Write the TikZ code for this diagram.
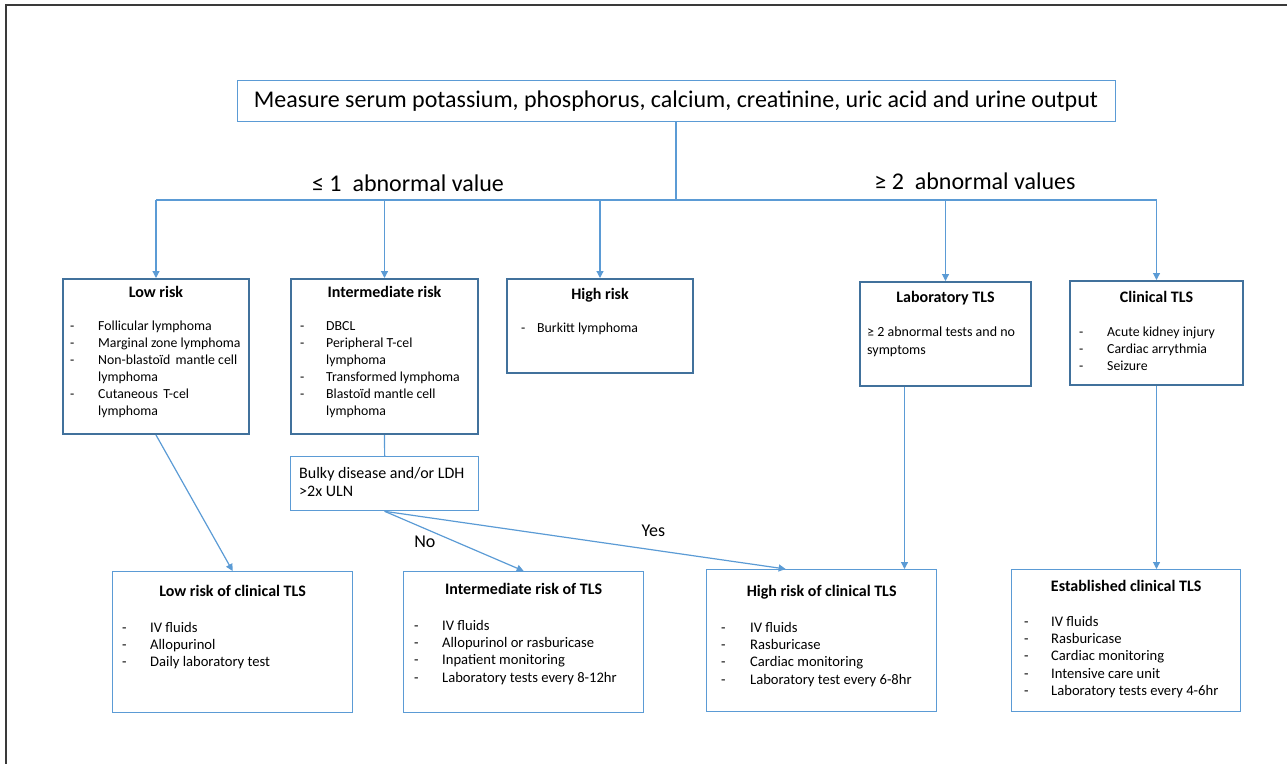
\documentclass[tikz,border=0pt]{standalone}
\usepackage{fontspec}
\setmainfont{Carlito}
\usetikzlibrary{arrows.meta,positioning}
\definecolor{linkblue}{HTML}{5B9BD5}
\definecolor{riskblue}{HTML}{41719C}
\definecolor{framegray}{HTML}{3A3A3A}
\newcommand{\dashitem}[2][28pt]{\makebox[#1][l]{-}#2}
\newcommand{\wrapitem}[2][28pt]{\hspace*{#1}#2}
\begin{document}
\begin{tikzpicture}[x=1pt,y=-1pt,
    flowbox/.style={rectangle,draw=linkblue,line width=1.3,anchor=north west,inner sep=0},
    riskbox/.style={flowbox,draw=riskblue,line width=2},
    boxtitle/.style={font=\fontsize{16}{19}\selectfont\bfseries,inner sep=0,text height=12pt,text depth=4pt},
    itemlist/.style={font=\fontsize{13.8}{17}\selectfont,align=left,anchor=north west,inner sep=0},
    treatlist/.style={itemlist,font=\fontsize{14.6}{17.3}\selectfont},
    countlabel/.style={font=\fontsize{24}{28}\selectfont,inner sep=0},
    flowline/.style={draw=linkblue,line width=1.2},
    flowarrow/.style={flowline,-{Triangle[width=7pt,length=7pt]}},
    edgelabel/.style={font=\fontsize{18}{21}\selectfont,inner sep=0}]
    \useasboundingbox (0,0) rectangle (1287,764);
    \draw[framegray,line width=2] (1287,5) -- (6,5) -- (6,764);

    % first test
    \node[flowbox,anchor=center,line width=1,minimum width=878,minimum height=41,
          font=\fontsize{24}{28}\selectfont] (measure) at (676,101)
          {Measure serum potassium, phosphorus, calcium, creatinine, uric acid and urine output};
    \coordinate (bar) at (0,200);
    \node[countlabel] (lowcount) at (408,183) {≤ 1\ \ abnormal value};
    \node[countlabel] (highcount) at (975,181) {≥ 2\ \ abnormal values};

    % risk groups
    \node[riskbox,minimum width=186,minimum height=155] (lowrisk) at (62,278) {};
    \node[riskbox,minimum width=187,minimum height=155] (intrisk) at (290,278) {};
    \node[riskbox,minimum width=186,minimum height=94] (highrisk) at (506,278) {};
    \node[riskbox,minimum width=171,minimum height=104] (labtls) at (859,281) {};
    \node[riskbox,minimum width=173,minimum height=104] (clintls) at (1069,280) {};

    \node[boxtitle] (lowrisk-title) at ([yshift=-15]lowrisk.north) {Low risk};
    \node[itemlist] (lowrisk-list) at ([shift={(8,43)}]lowrisk.north west)
        {\dashitem{Follicular lymphoma}\\ \dashitem{Marginal zone lymphoma}\\
         \dashitem{Non-blastoïd\, mantle cell}\\ \wrapitem{lymphoma}\\
         \dashitem{Cutaneous\, T-cel}\\ \wrapitem{lymphoma}};
    \node[boxtitle] (intrisk-title) at ([yshift=-15]intrisk.north) {Intermediate risk};
    \node[itemlist] (intrisk-list) at ([shift={(10,43)}]intrisk.north west)
        {\dashitem[26pt]{DBCL}\\ \dashitem[26pt]{Peripheral T-cel}\\ \wrapitem[26pt]{lymphoma}\\
         \dashitem[26pt]{Transformed lymphoma}\\ \dashitem[26pt]{Blastoïd mantle cell}\\
         \wrapitem[26pt]{lymphoma}};
    \node[boxtitle] (highrisk-title) at ([yshift=-17]highrisk.north) {High risk};
    \node[itemlist] (highrisk-list) at ([shift={(15,45)}]highrisk.north west)
        {\dashitem[16pt]{Burkitt lymphoma}};
    \node[boxtitle] (labtls-title) at ([yshift=-17]labtls.north) {Laboratory TLS};
    \node[itemlist,font=\fontsize{14}{18}\selectfont] (labtls-list) at ([shift={(8,46)}]labtls.north west)
        {≥ 2 abnormal tests and no\\ symptoms};
    \node[boxtitle] (clintls-title) at ([yshift=-18]clintls.north) {Clinical TLS};
    \node[itemlist] (clintls-list) at ([shift={(10,47)}]clintls.north west)
        {\dashitem{Acute kidney injury}\\ \dashitem{Cardiac arrythmia}\\ \dashitem{Seizure}};

    \node[flowbox,minimum width=188,minimum height=54] (bulky) at (290,456) {};
    \node[itemlist,font=\fontsize{16}{18}\selectfont] (bulky-text) at ([shift={(9,11)}]bulky.north west)
        {Bulky disease and/or LDH\\ >2x ULN};

    % management
    \node[flowbox,minimum width=240,minimum height=141] (lowclin) at (112,571) {};
    \node[flowbox,minimum width=240,minimum height=141] (intclin) at (403,571) {};
    \node[flowbox,minimum width=230,minimum height=142] (highclin) at (706,569) {};
    \node[flowbox,minimum width=229,minimum height=142] (establ) at (1011,569) {};

    \node[boxtitle] (lowclin-title) at ([yshift=-21]lowclin.north) {Low risk of clinical TLS};
    \node[treatlist] (lowclin-list) at ([shift={(10,51)}]lowclin.north west)
        {\dashitem{IV fluids}\\ \dashitem{Allopurinol}\\ \dashitem{Daily laboratory test}};
    \node[boxtitle] (intclin-title) at ([yshift=-19]intclin.north) {Intermediate risk of TLS};
    \node[treatlist] (intclin-list) at ([shift={(11,49)}]intclin.north west)
        {\dashitem{IV fluids}\\ \dashitem{Allopurinol or rasburicase}\\
         \dashitem{Inpatient monitoring}\\ \dashitem{Laboratory tests every 8-12hr}};
    \node[boxtitle] (highclin-title) at ([yshift=-23]highclin.north) {High risk of clinical TLS};
    \node[treatlist] (highclin-list) at ([shift={(15,53)}]highclin.north west)
        {\dashitem[29pt]{IV fluids}\\ \dashitem[29pt]{Rasburicase}\\
         \dashitem[29pt]{Cardiac monitoring}\\ \dashitem[29pt]{Laboratory test every 6-8hr}};
    \node[boxtitle] (establ-title) at ([yshift=-18]establ.north) {Established clinical TLS};
    \node[treatlist] (establ-list) at ([shift={(13,47)}]establ.north west)
        {\dashitem[27pt]{IV fluids}\\ \dashitem[27pt]{Rasburicase}\\
         \dashitem[27pt]{Cardiac monitoring}\\ \dashitem[27pt]{Intensive care unit}\\
         \dashitem[27pt]{Laboratory tests every 4-6hr}};

    % connectors
    \draw[flowline] (measure.south) -- (measure.south |- bar);
    \draw[flowline] (lowrisk.north |- bar) -- (clintls.north |- bar);
    \foreach \n in {lowrisk,intrisk,highrisk,labtls,clintls}
        \draw[flowarrow] (\n.north |- bar) -- (\n.north);
    \draw[flowline] (intrisk.south) -- (bulky.north);
    \path[every edge/.style={flowarrow}]
        (lowrisk.south) edge (lowclin.north)
        (bulky.south) edge node[edgelabel,pos=0.38,below left=2pt] {No} (intclin.north)
        (bulky.south) edge node[edgelabel,pos=0.67,above=13pt] {Yes} ([xshift=-36]highclin.north)
        ([xshift=-41]labtls.south) edge ([xshift=-41]labtls.south |- highclin.north)
        (clintls.south) edge (clintls.south |- establ.north);
\end{tikzpicture}
\end{document}
